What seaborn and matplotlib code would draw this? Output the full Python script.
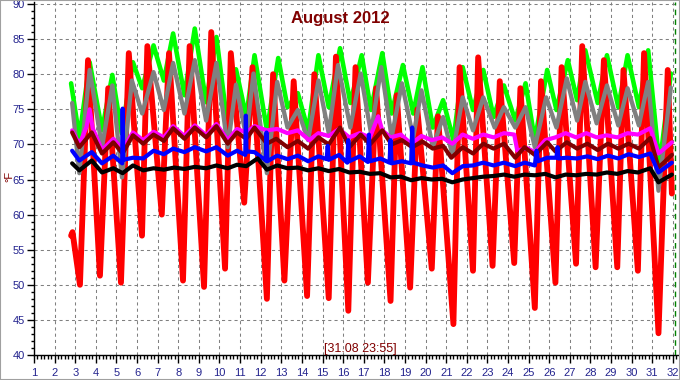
import matplotlib
matplotlib.use("Agg")
import matplotlib.pyplot as plt
import seaborn as sns
import pandas as pd
from matplotlib.patches import Rectangle
from matplotlib.ticker import MultipleLocator

# ---------------- data (day of month, °F) ----------------
red_t = [2.80, 2.87, 3.23, 3.62, 4.20, 4.60, 5.22, 5.60, 6.24, 6.50, 7.20, 7.55, 8.23, 8.55,
         9.25, 9.60, 10.27, 10.55, 11.20, 11.60, 12.30, 12.60, 13.15, 13.60, 14.25, 14.60,
         15.30, 15.65, 16.25, 16.60, 17.20, 17.60, 18.30, 18.60, 19.25, 19.60, 20.30, 20.60,
         21.35, 21.65, 22.30, 22.55, 23.25, 23.60, 24.30, 24.60, 25.30, 25.60, 26.30, 26.60,
         27.30, 27.60, 28.25, 28.65, 29.30, 29.60, 30.30, 30.60, 31.30, 31.75, 31.95]
red_v = [57.0, 57.5, 50.0, 82.0, 51.3, 78.0, 50.3, 83.0, 57.0, 84.0, 60.0, 83.0, 50.6, 84.0,
         49.7, 86.0, 52.3, 83.0, 61.7, 81.0, 48.0, 80.0, 50.6, 79.0, 48.4, 80.0,
         48.1, 82.5, 46.3, 81.0, 50.3, 78.0, 47.7, 77.0, 49.6, 75.0, 52.3, 74.0,
         44.4, 81.0, 52.0, 82.4, 52.7, 79.0, 53.1, 78.0, 46.7, 79.0, 50.3, 81.0,
         53.0, 84.0, 52.5, 82.0, 52.5, 80.6, 52.0, 83.0, 43.1, 80.6, 63.0]

green_t = [2.80, 3.20, 3.70, 4.30, 4.80, 5.25, 5.80, 6.25, 6.80, 7.30, 7.75, 8.30, 8.80, 9.35,
           9.85, 10.35, 10.80, 11.30, 11.70, 12.30, 12.85, 13.30, 13.80, 14.30, 14.80, 15.30,
           15.85, 16.35, 16.90, 17.35, 17.90, 18.35, 18.90, 19.40, 19.85, 20.35, 20.85, 21.35,
           21.80, 22.30, 22.80, 23.30, 23.80, 24.35, 24.85, 25.30, 25.90, 26.35, 26.90, 27.35,
           27.75, 28.35, 28.80, 29.35, 29.80, 30.35, 30.80, 31.35, 31.90]
green_v = [78.7, 71.0, 81.7, 72.0, 79.9, 71.6, 81.7, 78.0, 84.1, 79.1, 85.8, 77.0, 86.5, 76.0,
           85.3, 73.7, 80.7, 73.9, 82.7, 72.0, 82.3, 75.3, 77.3, 72.0, 82.7, 75.3,
           83.7, 75.9, 82.7, 74.9, 83.0, 74.4, 81.3, 74.4, 81.0, 72.4, 76.3, 70.6,
           81.0, 74.9, 80.6, 73.9, 78.4, 73.4, 78.7, 70.6, 80.6, 74.9, 82.0, 76.3,
           83.4, 75.9, 82.7, 75.3, 82.7, 75.3, 83.4, 67.0, 80.1]

gray_t = [2.85, 3.20, 3.70, 4.30, 4.80, 5.27, 5.75, 6.25, 6.80, 7.30, 7.75, 8.30, 8.80, 9.35,
          9.85, 10.40, 10.80, 11.30, 11.65, 12.30, 12.80, 13.30, 13.80, 14.30, 14.80, 15.30,
          15.75, 16.35, 16.85, 17.35, 17.85, 18.35, 18.85, 19.40, 19.80, 20.35, 20.85, 21.30,
          21.80, 22.30, 22.80, 23.35, 23.80, 24.35, 24.85, 25.30, 25.85, 26.35, 26.85, 27.35,
          27.75, 28.30, 28.80, 29.35, 29.80, 30.35, 30.80, 31.30, 31.90]
gray_v = [75.9, 65.9, 80.6, 69.6, 78.4, 65.3, 79.1, 74.4, 80.3, 74.9, 81.6, 74.4, 82.0, 73.4,
          81.6, 69.6, 78.5, 71.0, 80.1, 65.9, 78.9, 72.4, 74.9, 70.6, 79.1, 71.6,
          81.3, 72.4, 80.1, 71.6, 81.0, 71.0, 78.7, 71.0, 77.7, 69.6, 73.9, 68.5,
          76.7, 72.0, 76.7, 72.4, 75.3, 72.4, 75.3, 69.6, 76.7, 72.4, 79.4, 73.4,
          78.9, 73.0, 78.4, 72.7, 78.0, 72.7, 78.9, 63.4, 78.1]

magenta_t = [2.85, 3.20, 3.55, 3.70, 3.85, 4.30, 4.85, 5.30, 5.80, 6.30, 6.80, 7.30, 7.75, 8.30,
             8.80, 9.35, 9.85, 10.40, 10.85, 11.30, 11.70, 12.30, 12.80, 13.30, 13.80, 14.35,
             14.80, 15.30, 15.80, 16.30, 16.80, 17.30, 17.70, 17.90, 18.30, 18.80, 19.30, 19.80,
             20.30, 20.80, 21.30, 21.80, 22.30, 22.80, 23.30, 23.80, 24.30, 24.45, 24.90, 25.30,
             25.80, 26.30, 26.80, 27.30, 27.80, 28.30, 28.80, 29.30, 29.80, 30.30, 30.90, 31.30,
             31.95]
magenta_v = [72.0, 70.0, 72.5, 75.0, 72.3, 69.2, 70.8, 69.3, 71.7, 70.6, 71.8, 71.0, 72.6, 71.2,
             72.7, 71.3, 72.9, 70.6, 72.2, 71.7, 72.6, 72.0, 72.2, 71.6, 72.0, 70.6,
             71.6, 71.2, 72.2, 71.0, 71.6, 71.0, 74.0, 72.0, 71.0, 71.4, 70.1, 71.2,
             70.6, 71.0, 70.1, 71.4, 70.8, 71.4, 71.0, 71.6, 71.4, 69.1, 69.5, 68.9,
             70.6, 71.0, 71.6, 71.0, 71.6, 71.0, 71.3, 71.0, 71.6, 71.4, 72.3, 68.7,
             70.3]

maroon_t = [2.85, 3.20, 3.80, 4.30, 4.85, 5.30, 5.80, 6.30, 6.80, 7.30, 7.75, 8.30, 8.80, 9.35,
            9.85, 10.40, 10.85, 11.30, 11.70, 12.30, 12.75, 13.30, 13.80, 14.30, 14.80, 15.30,
            15.85, 16.30, 16.85, 17.30, 17.90, 18.35, 18.85, 19.35, 19.85, 20.35, 20.85, 21.25,
            21.80, 22.30, 22.80, 23.30, 23.80, 24.35, 24.80, 25.30, 25.90, 26.30, 26.85, 27.35,
            27.85, 28.35, 28.85, 29.35, 29.85, 30.35, 30.90, 31.30, 31.95]
maroon_v = [71.7, 69.6, 71.7, 68.7, 70.3, 68.7, 71.3, 70.1, 71.4, 70.5, 72.3, 70.8, 72.4, 71.0,
            72.6, 70.1, 71.7, 70.8, 72.4, 70.1, 70.8, 69.6, 70.5, 69.4, 71.0, 70.0,
            72.4, 69.6, 71.4, 70.0, 72.0, 70.0, 70.6, 69.6, 70.4, 69.4, 69.8, 68.1,
            69.6, 68.7, 70.1, 69.4, 70.1, 68.1, 69.6, 68.5, 70.3, 69.0, 70.3, 69.4,
            70.1, 69.2, 70.1, 69.4, 70.1, 69.4, 70.9, 66.7, 68.5]

blue_t = [2.85, 3.20, 3.80, 4.30, 4.85, 5.28, 5.30, 5.33, 5.80, 6.30, 6.80, 7.30, 7.75, 8.30,
          8.80, 9.35, 9.85, 10.40, 10.85, 11.25, 11.28, 11.31, 11.70, 12.25, 12.28, 12.32,
          12.80, 13.30, 13.80, 14.30, 14.80, 15.20, 15.25, 15.30, 15.80, 16.20, 16.25, 16.30,
          16.80, 17.20, 17.25, 17.30, 17.80, 18.25, 18.30, 18.35, 18.85, 19.30, 19.35, 19.40,
          19.85, 20.35, 20.85, 21.30, 21.80, 22.30, 22.80, 23.30, 23.80, 24.35, 24.80, 25.30,
          25.38, 25.45, 25.90, 26.35, 26.40, 26.45, 26.85, 27.35, 27.85, 28.35, 28.85, 29.35,
          29.85, 30.35, 30.90, 31.30, 31.95]
blue_v = [69.1, 67.7, 68.9, 67.3, 68.4, 67.3, 75.1, 67.8, 68.1, 68.0, 69.1, 68.6, 69.4, 68.9,
          69.6, 69.0, 69.6, 68.4, 69.1, 68.5, 74.1, 69.0, 68.9, 67.7, 71.7, 67.6,
          68.4, 67.9, 68.4, 67.6, 68.3, 67.9, 69.8, 67.8, 68.5, 67.4, 70.6, 67.6,
          68.3, 67.5, 71.4, 67.6, 68.0, 67.4, 70.6, 67.3, 67.6, 67.3, 72.4, 67.4,
          67.0, 66.7, 67.0, 65.9, 66.9, 67.0, 67.4, 67.0, 67.4, 66.9, 67.4, 67.0,
          69.1, 67.6, 68.1, 68.1, 69.6, 68.0, 68.1, 68.0, 68.3, 67.9, 68.4, 68.0,
          68.6, 68.2, 68.7, 66.0, 67.4]

black_t = [2.85, 3.20, 3.80, 4.30, 4.85, 5.30, 5.80, 6.30, 6.80, 7.30, 7.80, 8.30, 8.80, 9.35,
           9.85, 10.40, 10.85, 11.30, 11.85, 12.30, 12.80, 13.30, 13.80, 14.30, 14.80, 15.30,
           15.80, 16.30, 16.80, 17.30, 17.80, 18.30, 18.80, 19.30, 19.80, 20.30, 20.80, 21.30,
           21.80, 22.30, 22.80, 23.30, 23.80, 24.30, 24.80, 25.30, 25.80, 26.30, 26.80, 27.30,
           27.80, 28.30, 28.80, 29.30, 29.80, 30.30, 30.90, 31.30, 31.95]
black_v = [67.3, 66.3, 67.7, 66.0, 66.6, 65.9, 67.0, 66.3, 66.6, 66.4, 66.7, 66.5, 66.8, 66.6,
           67.0, 66.6, 67.1, 66.9, 68.0, 66.4, 67.0, 66.6, 66.7, 66.3, 66.6, 66.2,
           66.5, 66.0, 66.1, 65.8, 65.9, 65.3, 65.4, 64.9, 65.2, 65.0, 65.1, 64.6,
           65.0, 65.2, 65.4, 65.5, 65.7, 65.4, 65.7, 65.6, 65.8, 65.3, 65.7, 65.6,
           65.8, 65.7, 66.0, 65.8, 66.2, 66.0, 66.6, 64.6, 65.7]

x_ticks = list(range(1, 33))
y_ticks = [40, 45, 50, 55, 60, 65, 70, 75, 80, 85, 90]
title_text = "August 2012"
stamp_text = "[31.08 23:55]"
unit_text = "°F"

# ---------------- drawing ----------------
sns.set_style("white")
plt.rcParams['font.family'] = ['Liberation Sans', 'DejaVu Sans']

W, H = 680, 380
fig = plt.figure(figsize=(W / 100, H / 100), dpi=100)
ax = fig.add_axes([34 / W, 25 / H, 644 / W, 353 / H])

series = [
    (green_t, green_v, "#00ff00", 3.3, 1),
    (red_t, red_v, "#ff0000", 4.2, 2),
    (gray_t, gray_v, "#808080", 3.1, 3),
    (magenta_t, magenta_v, "#ff00ff", 3.0, 4),
    (maroon_t, maroon_v, "#800000", 3.0, 5),
    (blue_t, blue_v, "#0000ff", 3.0, 6),
    (black_t, black_v, "#000000", 3.0, 7),
]
for t, v, col, lw, z in series:
    df = pd.DataFrame({"day": t, "temp": v})
    sns.lineplot(data=df, x="day", y="temp", ax=ax, color=col, linewidth=lw,
                 sort=False, estimator=None, zorder=z + 2)
    ax.lines[-1].set_solid_joinstyle("round")
    ax.lines[-1].set_solid_capstyle("round")

ax.set_xlim(1, 1 + 644 / 20.61)
ax.set_ylim(40, 40 + 353 / 7.02)
ax.set_xticks(x_ticks)
ax.set_yticks(y_ticks)
ax.xaxis.set_minor_locator(MultipleLocator(1 / 6))
ax.yaxis.set_minor_locator(MultipleLocator(1))
ax.set_xlabel("")
ax.set_ylabel("")

tick_col = "#23238e"
ax.tick_params(axis="both", which="both", direction="out", colors="#000000",
               labelcolor=tick_col, labelsize=8)
ax.tick_params(axis="y", which="major", length=5, width=1, pad=1.5, left=True)
ax.tick_params(axis="y", which="minor", length=2.5, width=1, left=True)
ax.tick_params(axis="x", which="major", length=6, width=1, pad=3, bottom=True)
ax.tick_params(axis="x", which="minor", length=3, width=1, bottom=True)

ax.grid(True, which="major", color="#808080", linestyle=(0, (3, 3)), linewidth=0.75)
ax.set_axisbelow(True)
for s in ["top", "right"]:
    ax.spines[s].set_visible(False)
for s in ["left", "bottom"]:
    ax.spines[s].set_color("#000000")
    ax.spines[s].set_linewidth(1)

ax.axvline(1 + (675 - 34) / 20.61, color="#008000", linestyle=(0, (4, 3)),
           linewidth=1, zorder=20)

fig.text(0.5, 1 - 19 / H, title_text, ha="center", va="center",
         fontsize=12, fontweight="bold", color="#800000")
fig.text(360 / W, 1 - 349 / H, stamp_text, ha="center", va="center",
         fontsize=9, color="#800000")
fig.text(9 / W, 1 - 176 / H, unit_text, ha="center", va="center",
         rotation=90, fontsize=8, color="#800000")

fig.patches.append(Rectangle((0, 0), 1, 1, transform=fig.transFigure, fill=False,
                             edgecolor="#a0a0a0", linewidth=1.5))

fig.savefig("out.png", dpi=100)
